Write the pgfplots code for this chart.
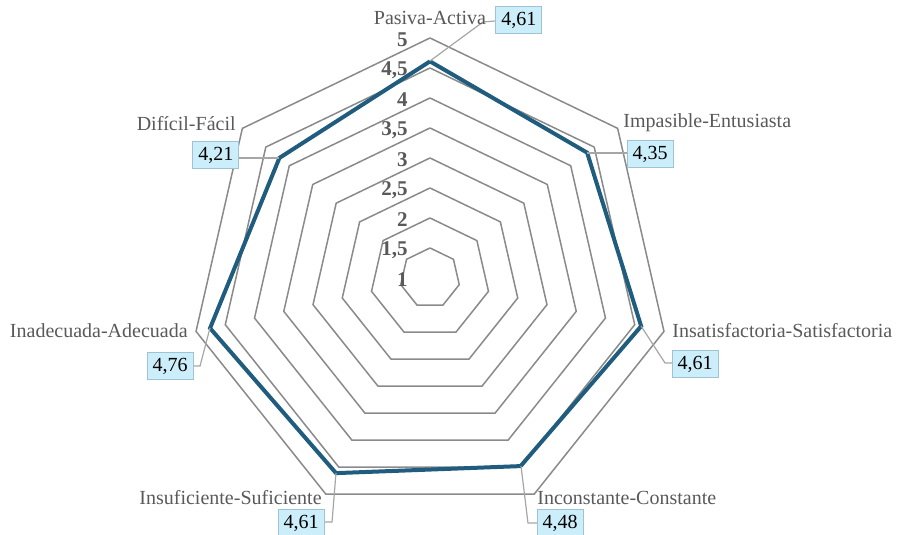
\documentclass[border=0pt]{standalone}
\usepackage{pgfplots}
\pgfplotsset{compat=1.18}
\usepackage{pgfplotstable}
\usepackage{fontspec}
\setmainfont{Liberation Serif}
\definecolor{gridc}{HTML}{8A8A8A}
\definecolor{datac}{HTML}{1F5C7E}
\definecolor{txtc}{HTML}{595959}
\definecolor{boxf}{HTML}{CCEEFA}
\definecolor{boxd}{HTML}{9EC4D4}
\definecolor{leadc}{HTML}{A6A6A6}
\pgfplotstableread{
a v
0 4.61
51.428571 4.35
102.857143 4.61
154.285714 4.48
205.714286 4.61
257.142857 4.76
308.571429 4.21
360 4.61
}\data
\begin{document}
\begin{tikzpicture}[
  cat/.style={font=\fontsize{10}{12}\selectfont, text=txtc, inner sep=0pt},
  lab/.style={font=\fontsize{10}{12}\selectfont, text=black, fill=boxf, draw=boxd, line width=0.5pt, minimum width=23pt, minimum height=13.5pt, inner sep=1pt},
  tk/.style={font=\fontsize{10.5}{12}\selectfont\bfseries, text=txtc, anchor=east, inner sep=0pt}]
\begin{axis}[name=ax, hide axis, scale only axis, width=449.5pt, height=267.5pt,
  xmin=-7.1667, xmax=7.8167, ymin=-4.2833, ymax=4.6333, clip=false]
\pgfplotsinvokeforeach{1.5,2,2.5,3,3.5,4,4.5,5}{
  \addplot[gridc, line width=0.75pt, line join=miter, no marks] table[x expr={(#1-1)*sin(\thisrow{a})}, y expr={(#1-1)*cos(\thisrow{a})}] {\data};
}
\addplot[datac, line width=2pt, line join=miter, no marks] table[x expr={(\thisrow{v}-1)*sin(\thisrow{a})}, y expr={(\thisrow{v}-1)*cos(\thisrow{a})}] {\data};
% leader lines
\draw[leadc, line width=0.6pt] (axis cs:0,3.617) -- (axis cs:0.883,4.267) -- (axis cs:1.083,4.283);
\draw[leadc, line width=0.6pt] (axis cs:2.617,2.083) -- (axis cs:3.283,2.083);
\draw[leadc, line width=0.6pt] (axis cs:3.517,-0.8) -- (axis cs:3.917,-1.417) -- (axis cs:4.05,-1.417);
\draw[leadc, line width=0.6pt] (axis cs:1.517,-3.133) -- (axis cs:1.633,-4.083) -- (axis cs:1.8,-4.083);
\draw[leadc, line width=0.6pt] (axis cs:-1.567,-3.25) -- (axis cs:-1.633,-4.067) -- (axis cs:-1.8,-4.067);
\draw[leadc, line width=0.6pt] (axis cs:-3.667,-0.833) -- (axis cs:-3.833,-1.467) -- (axis cs:-3.967,-1.467);
\draw[leadc, line width=0.6pt] (axis cs:-2.517,2.0) -- (axis cs:-3.233,2.0);
% category labels
\node[cat] at (axis cs:0,4.333) {Pasiva-Activa};
\node[cat, anchor=west] at (axis cs:3.217,2.583) {Impasible-Entusiasta};
\node[cat, anchor=west] at (axis cs:4.033,-0.883) {Insatisfactoria-Satisfactoria};
\node[cat, anchor=west] at (axis cs:1.783,-3.667) {Inconstante-Constante};
\node[cat, anchor=east] at (axis cs:-1.8,-3.667) {Insuficiente-Suficiente};
\node[cat, anchor=east] at (axis cs:-4.033,-0.883) {Inadecuada-Adecuada};
\node[cat, anchor=east] at (axis cs:-3.233,2.567) {Difícil-Fácil};
% data labels
\node[lab] at (axis cs:1.483,4.3) {4,61};
\node[lab] at (axis cs:3.667,2.067) {4,35};
\node[lab] at (axis cs:4.417,-1.433) {4,61};
\node[lab] at (axis cs:2.167,-4.083) {4,48};
\node[lab] at (axis cs:-2.15,-4.083) {4,61};
\node[lab] at (axis cs:-4.333,-1.467) {4,76};
\node[lab] at (axis cs:-3.567,2.05) {4,21};
% tick labels
\node[tk] at (axis cs:-0.367,-0.03) {1};
\node[tk] at (axis cs:-0.367,0.47) {1,5};
\node[tk] at (axis cs:-0.367,0.97) {2};
\node[tk] at (axis cs:-0.367,1.47) {2,5};
\node[tk] at (axis cs:-0.367,1.97) {3};
\node[tk] at (axis cs:-0.367,2.47) {3,5};
\node[tk] at (axis cs:-0.367,2.97) {4};
\node[tk] at (axis cs:-0.367,3.47) {4,5};
\node[tk] at (axis cs:-0.367,3.97) {5};
\end{axis}
\pgfresetboundingbox
\path (ax.south west) rectangle (ax.north east);
\end{tikzpicture}
\end{document}
